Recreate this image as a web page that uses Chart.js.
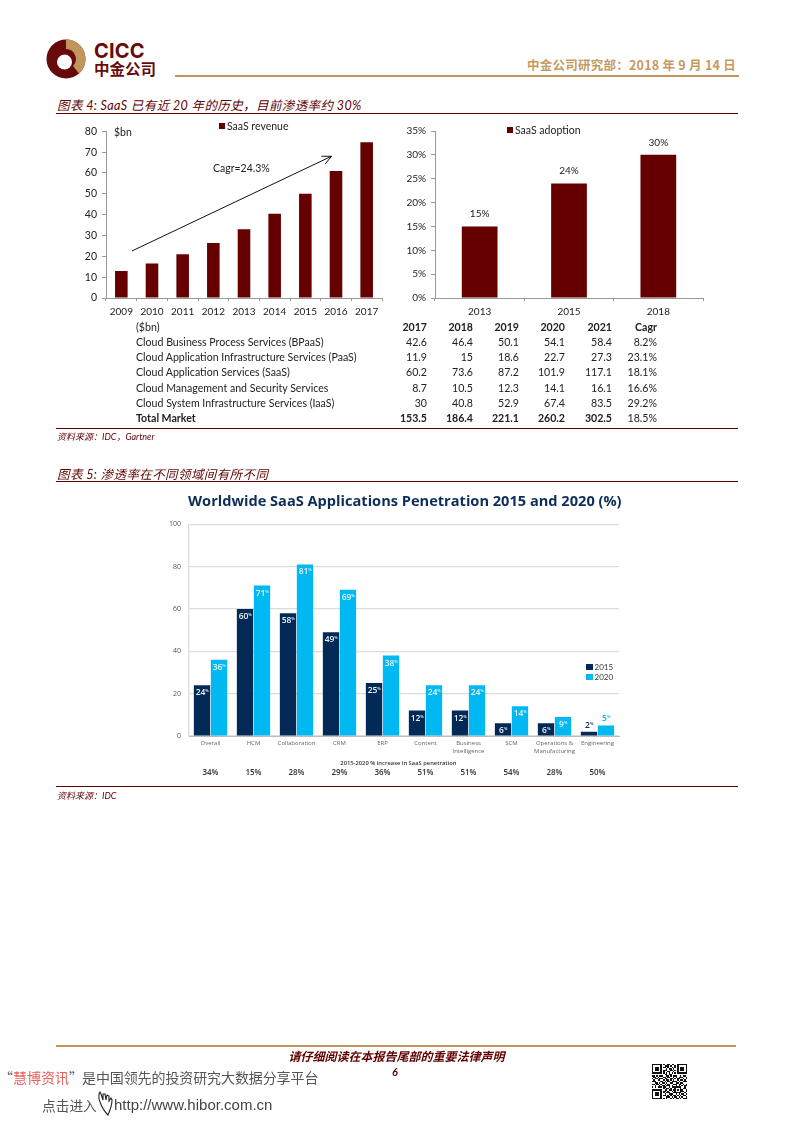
<!DOCTYPE html>
<html>
<head>
<meta charset="utf-8">
<script src="https://cdn.jsdelivr.net/npm/chart.js@4"></script>
<style>
html,body{margin:0;padding:0;background:#fff;}
body{width:793px;height:1122px;position:relative;overflow:hidden;font-family:Lato,"Noto Sans CJK SC",sans-serif;}
.abs{position:absolute;white-space:nowrap;}
canvas{position:absolute;}
.rule{position:absolute;left:56px;width:682px;height:1px;background:#5f0000;}
.fig{position:absolute;left:57px;font-size:12.5px;font-style:italic;color:#5f0000;font-family:Lato,"Noto Sans CJK SC";white-space:nowrap;letter-spacing:.4px;}
.src{position:absolute;left:57px;font-size:9px;font-style:italic;color:#5f0000;white-space:nowrap;}
.leg{position:absolute;font-size:10.5px;color:#222;white-space:nowrap;}
.leg i{display:inline-block;width:6px;height:6px;background:#660000;margin-right:2px;position:relative;top:-1px;}
#tbl{position:absolute;left:0;top:0;width:793px;height:1122px;}
.cell{position:absolute;font-size:10.6px;color:#222;white-space:nowrap;line-height:14px;}
</style>
</head>
<body>

<svg class="abs" style="left:46px;top:39px" width="40" height="40" viewBox="0 0 40 40">
  <circle cx="20" cy="20" r="19.5" fill="#660a0a"/>
  <path d="M20 .5 A19.5 19.5 0 0 1 33 34.5 L27 27 A10 10 0 0 0 20 10 Z" fill="#c0965a"/>
  <circle cx="18.5" cy="23" r="7.5" fill="#fff"/>
  <path d="M20 10 C14 11 11 15 10.5 21 C13 16 17 15 20 15 Z" fill="#660a0a"/>
</svg>
<div class="abs" style="left:94px;top:39px;font:bold 20px Inter,Roboto;color:#660a0a;letter-spacing:.2px;line-height:24px">CICC</div>
<div class="abs" style="left:94px;top:59px;font:bold 15.5px 'Noto Sans CJK SC';color:#660a0a;line-height:18px">中金公司</div>
<div class="abs" style="right:57px;top:56px;font:bold 12.5px 'Noto Sans CJK SC','DejaVu Sans';color:#c59a5e;letter-spacing:.25px;line-height:17px">中金公司研究部：2018 年 9 月 14 日</div>
<div class="abs" style="left:175px;top:75px;width:564px;height:2px;background:#c0965a"></div>

<div class="fig" style="top:95px">图表 4: SaaS 已有近 20 年的历史，目前渗透率约 30%</div>
<div class="rule" style="top:113px"></div>

<canvas id="revChart" style="left:60px;top:120px"></canvas>
<div class="leg" style="left:219px;top:120px"><i></i>SaaS revenue</div>
<div class="abs" style="left:114px;top:126px;font-size:10.5px;color:#222">$bn</div>
<div class="abs" style="left:213px;top:162px;font-size:10.5px;color:#222">Cagr=24.3%</div>

<canvas id="adoptChart" style="left:395px;top:120px"></canvas>
<div class="leg" style="left:507px;top:124px"><i></i>SaaS adoption</div>

<div id="tbl"></div>
<div class="rule" style="top:428px"></div>
<div class="src" style="top:430px">资料来源：IDC，Gartner</div>

<div class="fig" style="top:464px">图表 5: 渗透率在不同领域间有所不同</div>
<div class="rule" style="top:481px"></div>

<div class="abs" style="left:188px;top:490px;font:bold 14.6px 'Open Sans';color:#0d2d5a;line-height:20px">Worldwide SaaS Applications Penetration 2015 and 2020 (%)</div>
<canvas id="penChart" style="left:160px;top:512px"></canvas>
<div class="leg" style="left:586px;top:662px;font-size:8px;line-height:10px;color:#333"><i style="background:#032a57;width:6.5px;height:6.5px;top:0"></i>2015<br><i style="background:#00b9f2;width:6.5px;height:6.5px;top:0"></i>2020</div>

<div class="rule" style="top:786px"></div>
<div class="src" style="top:789px">资料来源：IDC</div>

<div class="abs" style="left:56px;top:1045px;width:680px;height:2px;background:#c0965a"></div>
<div class="abs" style="left:0;width:793px;text-align:center;top:1048px;font:italic bold 12px 'Noto Sans CJK SC';color:#5f0000;line-height:15px">请仔细阅读在本报告尾部的重要法律声明</div>
<div class="abs" style="left:392px;top:1065px;font:italic bold 11px Lato;color:#5f0000">6</div>
<div class="abs" style="left:-1px;top:1068px;font:14px 'Noto Sans CJK SC';color:#555;line-height:18px">“<span style="color:#e8605a">慧博资讯</span>”</div>
<div class="abs" style="left:82px;top:1068px;font:14px 'Noto Sans CJK SC';color:#555;line-height:18px;letter-spacing:-.1px">是中国领先的投资研究大数据分享平台</div>
<div class="abs" style="left:42px;top:1096px;font:13.7px 'Noto Sans CJK SC';color:#555;line-height:18px">点击进入</div>
<svg class="abs" style="left:97px;top:1090px" width="17" height="28" viewBox="0 0 17 28" fill="none" stroke="#222" stroke-width="1.1">
  <path d="M3 12 C1 8 2 3 3 2 C5 5 5 8 6 10 L6 4 L8 4 L9 10 L10 5 L12 6 L12 11 L14 8 L15 10 C15 16 13 20 11 25 C8 22 5 18 3 12 Z"/>
</svg>
<div class="abs" style="left:114px;top:1096px;font:15px 'Liberation Sans';color:#444;line-height:18px">http://www.hibor.com.cn</div>
<svg id="qr" class="abs" style="left:652px;top:1064px" width="35" height="35" viewBox="0 0 25 25" shape-rendering="crispEdges"></svg>

<script>
// top chart, left
const revYears = ['2009','2010','2011','2012','2013','2014','2015','2016','2017'];
const revValues = [13, 16.5, 21, 26.4, 33, 40.4, 50, 61, 74.7];
const revTicks = [0,10,20,30,40,50,60,70,80];
// arrow ends, in category index / $bn
const arrowFrom = [0.35, 22.6];
const arrowTo = [6.85, 68];

// top chart, right
const adoptYears = ['2013','2015','2018'];
const adoptValues = [15, 24, 30];

// table
const tblYears = ['2017','2018','2019','2020','2021','Cagr'];
const tblNames = ['Cloud Business Process Services (BPaaS)','Cloud Application Infrastructure Services (PaaS)','Cloud Application Services (SaaS)','Cloud Management and Security Services','Cloud System Infrastructure Services (IaaS)','Total Market'];
const tblBpaas = ['42.6','46.4','50.1','54.1','58.4','8.2%'];
const tblPaas = ['11.9','15','18.6','22.7','27.3','23.1%'];
const tblSaas = ['60.2','73.6','87.2','101.9','117.1','18.1%'];
const tblMgmt = ['8.7','10.5','12.3','14.1','16.1','16.6%'];
const tblIaas = ['30','40.8','52.9','67.4','83.5','29.2%'];
const tblTotal = ['153.5','186.4','221.1','260.2','302.5','18.5%'];

// bottom chart
const penCats = ['Overall','HCM','Collaboration','CRM','ERP','Content',['Business','Intelligence'],'SCM',['Operations &','Manufacturing'],'Engineering'];
const pen2015 = [24,60,58,49,25,12,12,6,6,2];
const pen2020 = [36,71,81,69,38,24,24,14,9,5];
const penIncrease = ['34%','15%','28%','29%','36%','51%','51%','54%','28%','50%'];

const dark = '#660000';
const font = 'Lato';

function sizeCanvas(id, w, h){
    const c = document.getElementById(id);
    c.width = w; c.height = h;
    c.style.width = w + 'px'; c.style.height = h + 'px';
    return c.getContext('2d');
}

// table cells
const tbl = document.getElementById('tbl');
const colRight = [427,473,519,565,612,657];
const rowTop = [320,335,350,365,380.5,396,411];
function addCell(text, y, x, right, bold){
    const d = document.createElement('div');
    d.className = 'cell';
    d.textContent = text;
    d.style.top = y + 'px';
    if(right) d.style.right = (793 - x) + 'px'; else d.style.left = x + 'px';
    if(bold) d.style.fontWeight = 'bold';
    tbl.appendChild(d);
}
addCell('($bn)', rowTop[0], 136, false, false);
tblYears.forEach((t,i) => addCell(t, rowTop[0], colRight[i], true, true));
[tblBpaas,tblPaas,tblSaas,tblMgmt,tblIaas,tblTotal].forEach((row,r) => {
    addCell(tblNames[r], rowTop[r+1], 136, false, r == 5);
    row.forEach((t,i) => addCell(t, rowTop[r+1], colRight[i], true, r == 5 && i < 5));
});

// qr-like block
const qr = document.getElementById('qr');
const qrRows = [
 '1111111010011011001111111',
 '1000001001110100101000001',
 '1011101011010010101011101',
 '1011101000101101001011101',
 '1011101011100110101011101',
 '1000001010011001001000001',
 '1111111010101010101111111',
 '0000000001101100000000000',
 '1101011100110101110010110',
 '0110100011011001010111001',
 '1011011101100110101100101',
 '0100110010110101001011010',
 '1110001101011011110100111',
 '0011010110100110011011000',
 '1101101001011001110110101',
 '0010010110111010010101011',
 '1010111011001011111110010',
 '0000000010110100100010110',
 '1111111001101101101011001',
 '1000001011010010100011101',
 '1011101010111001111110010',
 '1011101001001110010101101',
 '1011101011010101101010110',
 '1000001000111010110101001',
 '1111111010100101011010111'];
let qrRects = '';
qrRows.forEach((row,y) => { row.split('').forEach((b,x) => { if(b == '1') qrRects += '<rect x="'+x+'" y="'+y+'" width="1" height="1" fill="#111"/>'; }); });
qr.innerHTML = qrRects;

function fixAxes(yWidth, xHeight){
    return {
        y: function(s){ s.width = yWidth; },
        x: function(s){ s.height = xHeight; }
    };
}

// revenue chart
const revFit = fixAxes(46, 26);
new Chart(sizeCanvas('revChart', 330, 204), {
    type: 'bar',
    data: {
        labels: revYears,
        datasets: [{label:'SaaS revenue', data:revValues, backgroundColor:dark, categoryPercentage:0.41, barPercentage:1}]
    },
    options: {
        responsive:false, animation:false,
        layout:{padding:{top:10,right:8,left:0,bottom:0}},
        plugins:{legend:{display:false}, tooltip:{enabled:false}},
        scales:{
            y:{min:0,max:80,afterBuildTicks:s=>{s.ticks=revTicks.map(v=>({value:v}));},afterFit:revFit.y,
               grid:{drawOnChartArea:false,color:'#999',tickLength:4},border:{color:'#999'},
               ticks:{color:'#222',font:{family:font,size:10.5},padding:5}},
            x:{afterFit:revFit.x,grid:{drawOnChartArea:false,color:'#999',tickLength:3,offset:true},border:{color:'#999'},
               ticks:{color:'#222',font:{family:font,size:10},padding:5,maxRotation:0,autoSkip:false}}
        }
    },
    plugins:[{
        id:'cagrArrow',
        afterDatasetsDraw(chart){
            const c = chart.ctx, sx = chart.scales.x, sy = chart.scales.y;
            const x1 = sx.getPixelForValue(arrowFrom[0]), y1 = sy.getPixelForValue(arrowFrom[1]);
            const x2 = sx.getPixelForValue(arrowTo[0]), y2 = sy.getPixelForValue(arrowTo[1]);
            const a = Math.atan2(y2-y1, x2-x1);
            c.save();
            c.strokeStyle = '#111'; c.lineWidth = 1;
            c.beginPath(); c.moveTo(x1,y1); c.lineTo(x2,y2);
            c.moveTo(x2-10*Math.cos(a-0.45), y2-10*Math.sin(a-0.45));
            c.lineTo(x2,y2);
            c.lineTo(x2-10*Math.cos(a+0.45), y2-10*Math.sin(a+0.45));
            c.stroke();
            c.restore();
        }
    }]
});

// adoption chart
const adoptFit = fixAxes(40, 26);
new Chart(sizeCanvas('adoptChart', 320, 204), {
    type: 'bar',
    data: {
        labels: adoptYears,
        datasets: [{label:'SaaS adoption', data:adoptValues, backgroundColor:dark, categoryPercentage:0.4, barPercentage:1}]
    },
    options: {
        responsive:false, animation:false,
        layout:{padding:{top:10,right:12,left:0,bottom:0}},
        plugins:{legend:{display:false}, tooltip:{enabled:false}},
        scales:{
            y:{min:0,max:35,afterFit:adoptFit.y,grid:{drawOnChartArea:false,color:'#999',tickLength:4},border:{color:'#999'},
               ticks:{stepSize:5,color:'#222',font:{family:font,size:10},padding:5,callback:v=>v+'%'}},
            x:{afterFit:adoptFit.x,grid:{drawOnChartArea:false,color:'#999',tickLength:3,offset:true},border:{color:'#999'},
               ticks:{color:'#222',font:{family:font,size:10},padding:5}}
        }
    },
    plugins:[{
        id:'adoptLabels',
        afterDatasetsDraw(chart){
            const c = chart.ctx;
            c.save();
            c.fillStyle = '#222'; c.font = '10px '+font; c.textAlign = 'center';
            chart.getDatasetMeta(0).data.forEach((b,i) => c.fillText(adoptValues[i]+'%', b.x, b.y-9));
            c.restore();
        }
    }]
});

// penetration chart
const penFit = fixAxes(29, 49);
new Chart(sizeCanvas('penChart', 470, 273), {
    type: 'bar',
    data: {
        labels: penCats,
        datasets: [
            {label:'2015', data:pen2015, backgroundColor:'#032a57', categoryPercentage:0.79, barPercentage:0.96},
            {label:'2020', data:pen2020, backgroundColor:'#00b9f2', categoryPercentage:0.79, barPercentage:0.96}
        ]
    },
    options: {
        responsive:false, animation:false,
        layout:{padding:{top:10,right:11,left:0,bottom:0}},
        plugins:{legend:{display:false}, tooltip:{enabled:false}},
        scales:{
            y:{min:0,max:100,afterFit:penFit.y,grid:{color:'#dcdcdc',lineWidth:1.2,drawTicks:false},border:{color:'#dcdcdc',width:1.2},
               ticks:{stepSize:20,color:'#555',font:{family:'Open Sans',size:7},padding:8}},
            x:{afterFit:penFit.x,grid:{display:false,drawTicks:false},border:{color:'#bbb'},
               ticks:{color:'#666',font:{family:'Open Sans',size:6},padding:4,maxRotation:0,autoSkip:false}}
        }
    },
    plugins:[{
        id:'penLabels',
        afterDatasetsDraw(chart){
            const c = chart.ctx;
            c.save();
            [[pen2015,'#032a57'],[pen2020,'#00b9f2']].forEach((s,k) => {
                chart.getDatasetMeta(k).data.forEach((b,i) => {
                    const small = s[0][i] < 6;
                    const txt = String(s[0][i]);
                    c.textBaseline = 'alphabetic';
                    c.font = '600 8.5px "Open Sans"';
                    const w = c.measureText(txt).width;
                    c.fillStyle = small ? s[1] : '#e8f4fa';
                    const y = small ? b.y - 4 : b.y + 10;
                    c.textAlign = 'left';
                    c.fillText(txt, b.x - w/2 - 1.5, y);
                    c.font = '600 4px "Open Sans"';
                    c.fillText('%', b.x + w/2 - 1.5, y - 3);
                });
            });
            // increase row under the axis
            c.textAlign = 'center';
            c.fillStyle = '#333';
            c.font = '600 5.8px "Open Sans"';
            c.fillText('2015-2020 % increase in SaaS penetration', chart.scales.x.getPixelForValue(4.37), 253);
            c.font = '600 8px "Open Sans"';
            penIncrease.forEach((t,i) => c.fillText(t, chart.scales.x.getPixelForValue(i), 263));
            c.restore();
        }
    }]
});
</script>
</body>
</html>
